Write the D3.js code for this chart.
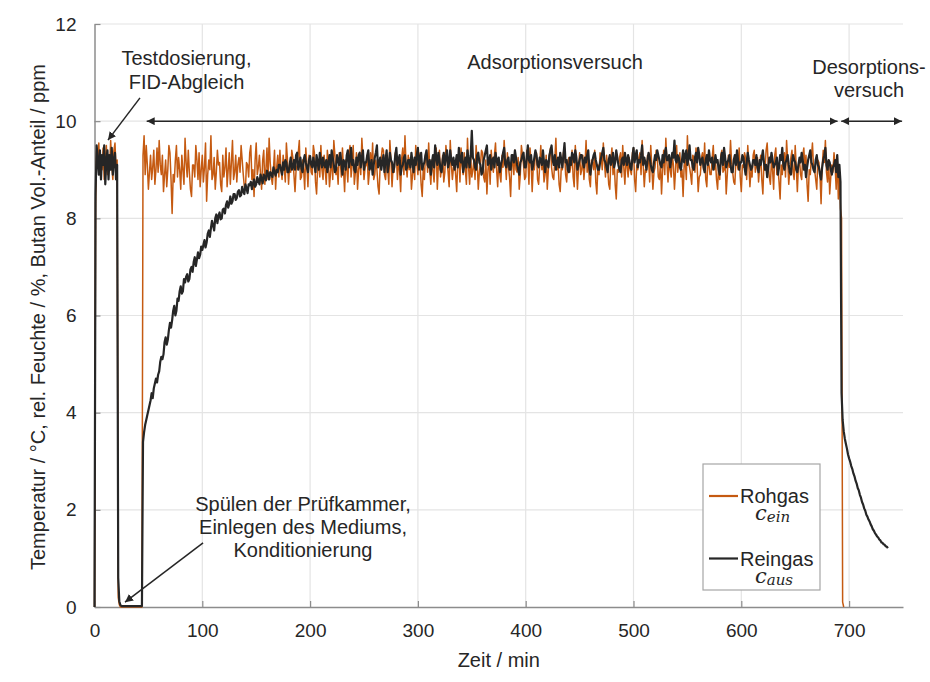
<!DOCTYPE html>
<html>
<head>
<meta charset="utf-8">
<script src="https://cdn.jsdelivr.net/npm/d3@7"></script>
<style>
  html, body { margin: 0; padding: 0; background: #fff; }
  svg { display: block; font-family: "Liberation Sans", Arial, sans-serif; }
</style>
</head>
<body>
<svg id="chart" width="930" height="682"></svg>
<script>
// Butan-Konzentration (ppm) über der Versuchszeit (min)

// Rohgas c_ein
const rohgasAnfang = [ // t = 0 … 50 min, 1-min-Raster
  0, 8.3, 9.4, 9.1, 9.55, 8.9, 9.3, 9.0, 9.45, 8.8, 9.2, 9.5, 8.9, 9.3, 9.0, 9.6, 9.1, 8.8, 9.4, 9.55, 9.0, 9.2,
  0.2, 0.05,
  0, 0, 0, 0, 0, 0, 0, 0, 0, 0, 0, 0, 0, 0, 0, 0, 0, 0, 0, 0, 0,
  9.3, 9.7, 8.9, 9.5, 9.1, 8.6
];
const rohgasMitte = [ // t = 52 … 686 min, 1-min-Raster
  9.3, 8.8, 9.05, 9.4, 8.7, 9.0, 9.45, 8.95, 9.6, 9.1, 8.9, 9.3, 8.55, 8.9, 9.2, 8.65, 9.0, 9.5, 9.35, 8.8, 8.1, 8.9, 8.75, 9.2, 9.5, 8.85, 9.25, 9.0, 8.6, 9.3, 9.0, 8.7, 9.65, 9.15, 8.85, 9.4, 8.95, 8.6, 8.45, 9.1,
  9.1, 8.85, 9.5, 9.2, 8.8, 9.35, 8.65, 9.0, 9.3, 8.75, 9.05, 9.55, 8.35, 8.9, 9.2, 9.0, 9.7, 8.8, 8.9, 9.25, 8.6, 8.95, 9.4, 9.1, 9.15, 8.7, 8.55, 9.3, 8.85, 9.05, 9.45, 8.65, 9.0, 9.35, 8.7, 9.15, 9.6, 8.8, 8.95, 9.3,
  8.75, 9.1, 9.25, 8.95, 9.5, 9.2, 8.9, 8.65, 8.6, 9.15, 9.1, 8.85, 9.35, 9.5, 8.8, 9.0, 8.45, 9.2, 9.55, 8.9, 9.05, 9.3, 8.9, 8.6, 9.2, 9.4, 8.7, 9.0, 9.45, 8.8, 9.65, 9.15, 8.85, 8.7, 9.0, 9.4, 8.6, 9.05, 9.3, 8.85,
  9.4, 9.0, 8.8, 9.3, 9.05, 8.75, 9.55, 9.2, 8.7, 9.1, 8.95, 9.4, 9.25, 8.9, 8.55, 9.0, 9.1, 9.35, 9.6, 8.8, 8.85, 9.2, 9.0, 8.6, 9.45, 9.1, 8.65, 9.3, 9.2, 8.95, 8.9, 9.5, 9.35, 8.75, 8.5, 9.05, 9.15, 8.85, 9.5, 9.0,
  8.8, 9.3, 9.0, 8.7, 9.4, 9.15, 8.65, 8.95, 9.25, 8.8, 9.6, 9.3, 8.9, 9.05, 8.7, 9.35, 9.15, 8.85, 9.45, 9.0, 8.55, 9.2, 9.05, 8.75, 9.3, 9.5, 8.85, 9.1, 9.5, 8.7, 8.95, 9.35, 8.6, 9.0, 9.2, 8.9, 9.65, 9.25, 8.8, 9.05,
  9.1, 9.3, 8.7, 8.95, 9.35, 9.0, 9.55, 8.8, 8.9, 9.2, 9.0, 8.65, 8.5, 9.1, 9.25, 9.45, 9.4, 8.9, 8.8, 9.15, 9.05, 8.7, 9.6, 9.2, 8.65, 9.05, 8.95, 9.35, 9.3, 8.8, 9.15, 9.0, 8.55, 9.25, 9.45, 8.9, 9.7, 9.1, 8.85, 9.3,
  9.0, 9.25, 8.6, 8.9, 9.2, 8.8, 9.5, 9.15, 8.9, 9.35, 9.1, 8.7, 8.45, 9.05, 8.8, 9.3, 9.35, 8.95, 9.55, 9.0, 8.7, 9.2, 9.0, 8.75, 9.25, 9.45, 8.6, 9.1, 9.4, 8.85, 9.05, 9.3, 8.75, 8.95, 9.5, 9.2, 8.95, 8.65, 9.6, 9.1,
  8.8, 9.05, 9.15, 8.9, 8.55, 9.2, 9.3, 8.75, 9.45, 9.1, 8.9, 9.35, 9.0, 8.7, 9.65, 9.05, 8.7, 9.25, 8.85, 9.0, 9.2, 8.8, 9.5, 9.15, 8.6, 8.95, 9.1, 9.4, 9.35, 8.85, 8.75, 9.2, 8.5, 9.0, 9.25, 8.7, 9.4, 9.1, 8.95, 9.3,
  9.55, 9.0, 8.65, 9.2, 8.9, 8.75, 9.3, 9.05, 9.6, 9.2, 8.8, 9.35, 9.05, 8.85, 8.45, 9.1, 9.2, 8.9, 9.4, 9.0, 8.95, 9.25, 8.6, 8.9, 9.5, 9.3, 9.1, 8.8, 8.85, 9.4, 9.25, 8.7, 9.45, 9.15, 8.55, 9.05, 9.0, 9.3, 9.35, 8.8,
  8.7, 9.1, 9.5, 9.0, 9.2, 8.75, 8.9, 9.3, 8.6, 9.0, 9.3, 9.45, 9.05, 8.85, 8.8, 9.2, 9.65, 9.0, 9.15, 8.7, 8.55, 9.05, 9.0, 9.35, 9.45, 8.9, 8.75, 9.15, 9.25, 8.95, 9.1, 9.4, 8.85, 8.65, 9.5, 9.1, 8.6, 9.05, 9.35, 8.9,
  9.0, 9.3, 8.8, 9.1, 9.6, 8.95, 9.25, 8.8, 8.65, 9.2, 9.15, 9.0, 9.4, 8.75, 8.5, 9.1, 8.9, 9.35, 9.3, 9.0, 9.55, 9.15, 8.85, 9.3, 9.05, 8.7, 8.6, 9.2, 9.45, 8.9, 9.2, 8.7, 8.4, 9.0, 8.95, 9.25, 9.35, 8.85, 9.5, 9.05,
  8.7, 9.2, 9.1, 8.85, 9.25, 9.0, 8.9, 9.35, 9.45, 8.8, 8.55, 9.1, 9.0, 9.25, 9.35, 8.9, 9.6, 9.1, 8.65, 9.0, 8.95, 9.3, 9.2, 8.75, 9.5, 9.05, 8.6, 8.95, 9.05, 9.4, 9.3, 8.85, 8.8, 9.15, 8.5, 9.0, 9.4, 8.9, 9.65, 9.15,
  8.75, 9.2, 9.0, 8.85, 9.3, 9.1, 8.6, 9.0, 9.5, 8.95, 9.15, 9.35, 8.85, 9.0, 8.45, 9.1, 9.2, 8.8, 9.7, 9.15, 9.05, 8.9, 8.7, 9.3, 9.25, 8.95, 9.45, 9.1, 8.55, 8.85, 8.9, 9.25, 9.35, 9.0, 9.55, 8.8, 8.65, 9.2, 9.1, 8.9,
  8.9, 9.25, 9.5, 9.0, 9.2, 8.8, 8.6, 9.1, 8.8, 9.3, 9.4, 8.95, 9.0, 9.2, 8.5, 8.9, 9.3, 9.05, 9.6, 9.15, 8.95, 8.75, 8.7, 9.2, 9.15, 9.0, 9.45, 8.85, 8.55, 9.1, 9.05, 9.35, 9.25, 8.8, 9.5, 9.1, 8.65, 9.0, 8.85, 9.3,
  9.4, 8.95, 9.1, 9.25, 8.75, 9.05, 9.3, 8.8, 8.5, 9.15, 9.0, 9.4, 9.55, 9.1, 8.85, 8.7, 9.2, 9.0, 8.6, 9.3, 9.45, 8.9, 9.05, 8.75, 8.4, 9.1, 8.9, 9.2, 9.35, 8.85, 9.6, 9.2, 8.7, 9.0, 9.25, 9.4, 8.95, 8.8, 9.5, 9.05,
  8.55, 9.1, 9.2, 8.9, 8.8, 9.3, 9.45, 9.0, 9.3, 8.7, 8.35, 9.0, 8.9, 9.25, 9.55, 9.05, 9.0, 8.8, 8.6, 9.2, 9.15, 8.9, 8.3, 9.05, 9.4, 9.15, 9.6, 8.95, 8.75, 9.2, 8.5, 8.85, 9.1, 8.95, 9.35
];
const rohgasEnde = [ // t = 687 … 695 min
  9.1, 8.6, 9.3, 8.4, 8.9, 8.2, 8.0, 0.1, 0
];

// Reingas c_aus
const reingasAnfang = [ // t = 0 … 50 min
  0, 8.5, 9.5, 9.2, 8.9, 9.4, 8.8, 9.3, 9.1, 9.5, 8.7, 9.2, 9.4, 8.8, 9.3, 9.0, 9.45, 8.9, 9.2, 9.35, 8.8, 9.1,
  0.6, 0.12, 0.04,
  0.02, 0.02, 0.02, 0.02, 0.02, 0.02, 0.02, 0.02, 0.02, 0.02, 0.02, 0.02, 0.02, 0.02, 0.02, 0.02, 0.02, 0.02, 0.02, 0.02,
  3.4, 3.6, 3.75, 3.85, 3.95, 4.05
];
const reingasMitte = [ // t = 52 … 686 min, 1-min-Raster
  4.25, 4.4, 4.3, 4.5, 4.6, 4.7, 4.62, 4.78, 4.85, 5.05, 5.15, 5.1, 5.2, 5.45, 5.55, 5.4, 5.5, 5.7, 5.85, 5.75, 5.9, 6.1, 6.2, 6.0, 6.1, 6.35, 6.3, 6.5, 6.6, 6.45, 6.5, 6.75, 6.68, 6.8, 6.85, 6.7, 6.75, 6.95, 7.0, 6.9,
  7.1, 7.2, 7.02, 7.15, 7.3, 7.18, 7.25, 7.42, 7.35, 7.45, 7.55, 7.4, 7.5, 7.68, 7.75, 7.62, 7.8, 7.95, 7.85, 7.75, 8.0, 8.08, 7.9, 8.05, 8.12, 7.98, 8.0, 8.18, 8.2, 8.1, 8.28, 8.35, 8.22, 8.3, 8.45, 8.3, 8.35, 8.5, 8.5, 8.38,
  8.42, 8.55, 8.58, 8.45, 8.48, 8.65, 8.55, 8.5, 8.7, 8.62, 8.52, 8.7, 8.68, 8.75, 8.6, 8.72, 8.8, 8.65, 8.7, 8.85, 8.78, 8.7, 8.9, 8.82, 8.72, 8.9, 8.85, 8.78, 8.98, 8.92, 8.8, 8.95, 8.92, 8.85, 9.05, 8.95, 8.88, 9.0, 8.95, 9.1,
  9.1, 9.0, 8.9, 9.15, 9.0, 9.2, 9.15, 8.95, 8.95, 9.1, 9.25, 9.0, 9.05, 9.2, 9.0, 9.3, 9.35, 9.0, 9.1, 9.25, 9.02, 8.95, 9.2, 9.3, 9.15, 9.05, 8.95, 9.2, 9.28, 9.1, 9.05, 9.25, 9.1, 8.95, 9.3, 9.15, 9.0, 9.35, 9.18, 9.05,
  9.25, 9.1, 9.05, 9.2, 8.95, 9.15, 9.3, 9.05, 9.4, 9.25, 9.1, 8.95, 9.0, 9.3, 9.2, 9.1, 9.35, 9.15, 8.9, 9.2, 9.15, 9.0, 9.3, 9.4, 9.05, 9.2, 9.45, 9.1, 9.2, 9.0, 8.95, 9.25, 9.1, 9.3, 9.35, 9.05, 9.25, 9.4, 9.0, 9.15,
  9.15, 9.3, 9.4, 9.0, 9.05, 9.2, 8.9, 9.1, 9.25, 9.35, 9.5, 9.05, 9.1, 9.25, 9.0, 9.15, 9.3, 8.95, 9.2, 9.4, 8.95, 9.1, 9.35, 9.2, 9.15, 8.95, 9.05, 9.3, 9.45, 9.1, 9.2, 9.3, 8.9, 9.05, 9.1, 9.25, 9.3, 9.0, 9.05, 9.2,
  9.2, 9.05, 9.35, 9.15, 8.95, 9.25, 9.1, 9.3, 9.45, 9.0, 9.25, 9.35, 9.0, 9.1, 9.15, 9.3, 9.4, 9.1, 9.05, 9.2, 8.9, 9.15, 9.3, 9.05, 9.5, 9.25, 9.1, 9.35, 9.2, 9.0, 8.95, 9.2, 9.35, 9.1, 9.25, 9.4, 9.05, 9.15, 9.4, 9.2,
  9.1, 9.25, 9.0, 9.15, 9.3, 9.05, 9.45, 9.2, 9.15, 9.35, 8.95, 9.1, 9.25, 9.05, 9.4, 9.2, 9.05, 9.3, 9.8, 9.25, 9.2, 9.05, 9.0, 9.3, 9.35, 9.15, 9.1, 8.9, 8.95, 9.2, 9.3, 9.4, 9.5, 9.1, 9.15, 9.3, 9.0, 9.2, 9.25, 9.05,
  9.35, 9.2, 9.1, 9.25, 8.95, 9.1, 9.2, 9.35, 9.45, 9.1, 9.05, 9.2, 9.25, 9.0, 9.0, 9.3, 9.3, 9.15, 9.4, 9.25, 9.1, 9.0, 8.9, 9.15, 9.2, 9.3, 9.35, 9.05, 9.05, 9.25, 9.5, 9.2, 9.15, 9.3, 9.0, 9.1, 9.25, 9.4, 9.3, 9.1,
  9.05, 9.25, 9.2, 9.1, 9.4, 9.15, 8.95, 9.2, 9.15, 9.05, 9.3, 9.4, 9.5, 9.2, 9.1, 9.3, 9.0, 9.15, 9.25, 9.05, 9.35, 9.2, 9.05, 9.3, 9.55, 9.15, 9.2, 9.0, 8.95, 9.25, 9.1, 9.35, 9.3, 9.15, 9.4, 9.25, 9.0, 9.1, 9.2, 9.3,
  9.3, 9.15, 9.05, 9.25, 9.15, 9.3, 9.4, 9.05, 8.9, 9.1, 9.2, 9.3, 9.35, 9.2, 9.1, 9.0, 9.0, 9.15, 9.25, 9.35, 9.45, 9.2, 9.15, 9.05, 8.95, 9.2, 9.3, 9.1, 9.2, 9.35, 9.05, 9.15, 9.4, 9.25, 9.1, 9.0, 8.95, 9.2, 9.25, 9.1,
  9.35, 9.2, 9.1, 9.3, 9.2, 9.05, 9.0, 9.25, 9.45, 9.15, 9.3, 9.4, 9.05, 9.2, 9.15, 9.3, 9.5, 9.1, 9.25, 9.15, 9.0, 9.2, 9.35, 9.25, 9.1, 9.0, 8.95, 9.15, 9.3, 9.2, 9.4, 9.3, 9.2, 9.1, 9.05, 9.3, 9.15, 9.35, 9.45, 9.2,
  9.2, 9.3, 9.05, 9.2, 9.35, 9.25, 9.6, 9.2, 9.15, 9.3, 9.25, 9.05, 9.0, 9.2, 9.4, 9.15, 9.3, 9.4, 9.1, 9.25, 9.5, 9.2, 9.2, 9.05, 9.0, 9.25, 9.35, 9.15, 9.45, 9.3, 9.1, 9.2, 9.25, 9.05, 8.95, 9.2, 9.3, 9.1, 9.4, 9.2,
  9.15, 9.25, 9.0, 9.1, 9.3, 9.15, 9.2, 9.0, 8.9, 9.2, 9.35, 9.1, 9.45, 9.25, 9.05, 9.15, 9.2, 9.3, 9.1, 8.95, 8.95, 9.2, 9.3, 9.1, 9.4, 9.2, 9.0, 9.15, 9.15, 9.3, 9.25, 9.05, 8.9, 9.15, 9.35, 9.2, 9.1, 9.0, 9.05, 9.2,
  9.2, 9.1, 9.3, 9.05, 8.95, 9.2, 9.1, 9.25, 9.4, 9.15, 9.0, 9.1, 8.85, 9.05, 9.25, 9.15, 9.35, 9.2, 9.05, 9.1, 9.15, 9.25, 8.9, 9.05, 9.3, 9.2, 9.45, 9.1, 9.0, 9.15, 9.2, 9.3, 9.1, 8.95, 8.9, 9.15, 9.3, 9.2, 9.15, 9.0,
  8.95, 9.1, 9.25, 9.15, 9.35, 9.2, 9.0, 9.1, 8.85, 9.05, 9.2, 9.3, 9.4, 9.15, 9.1, 9.0, 8.95, 9.2, 9.3, 9.1, 9.05, 8.9, 8.8, 9.05, 9.2, 9.3, 9.45, 9.1, 9.0, 9.2, 9.15, 9.0, 8.9, 9.05, 9.1
];
const reingasEnde = [ // t = 687 … 736 min, Desorption
  9.2, 8.95, 9.3, 8.85, 9.1, 8.75, 4.4, 3.85, 3.62, 3.47,
  3.36, 3.26, 3.14, 3.06, 2.99, 2.9, 2.84, 2.75, 2.69, 2.6,
  2.54, 2.45, 2.4, 2.31, 2.25, 2.16, 2.11, 2.03, 1.98, 1.9,
  1.86, 1.8, 1.76, 1.7, 1.66, 1.6, 1.57, 1.52, 1.49, 1.45,
  1.43, 1.39, 1.37, 1.33, 1.32, 1.29, 1.28, 1.25, 1.24, 1.21
];

const xTicks = [0, 100, 200, 300, 400, 500, 600, 700];
const yTicks = [0, 2, 4, 6, 8, 10, 12];

const legende = [
  { name: "Rohgas", index: "ein", farbe: "#C55A11" },
  { name: "Reingas", index: "aus", farbe: "#262626" }
];

// Messreihe aus Abschnitten mit gleichmäßigem Zeitraster
function abschnitt(werte, t0, t1) {
  const dt = (t1 - t0) / (werte.length - 1);
  return werte.map((v, i) => [t0 + i * dt, v]);
}
const rohgas = [].concat(
  abschnitt(rohgasAnfang, 0, 50),
  abschnitt(rohgasMitte, 52, 686),
  abschnitt(rohgasEnde, 687, 695)
);
const reingas = [].concat(
  abschnitt(reingasAnfang, 0, 50),
  abschnitt(reingasMitte, 52, 686),
  abschnitt(reingasEnde, 687, 736)
);

const svg = d3.select("#chart");
const x = d3.scaleLinear().domain([0, 750]).range([94.5, 903]);
const y = d3.scaleLinear().domain([0, 12]).range([607, 24]);

const textFarbe = "#262626";
const gitterFarbe = "#e4e4e4";
const achsFarbe = "#8c8c8c";

// Gitterlinien
svg.append("g").selectAll("line").data(xTicks.filter(d => d > 0)).join("line")
  .attr("x1", d => x(d)).attr("x2", d => x(d))
  .attr("y1", y(0)).attr("y2", y(12))
  .attr("stroke", gitterFarbe).attr("stroke-width", 1.2);
svg.append("g").selectAll("line").data(yTicks.filter(d => d > 0)).join("line")
  .attr("x1", x(0)).attr("x2", x(750))
  .attr("y1", d => y(d)).attr("y2", d => y(d))
  .attr("stroke", gitterFarbe).attr("stroke-width", 1.2);

// Achsen
const xAchse = svg.append("g").attr("transform", `translate(0,${y(0)})`)
  .call(d3.axisBottom(x).tickValues(xTicks).tickSize(-6).tickPadding(17).tickSizeOuter(0));
const yAchse = svg.append("g").attr("transform", `translate(${x(0)},0)`)
  .call(d3.axisLeft(y).tickValues(yTicks).tickSize(-6).tickPadding(18).tickSizeOuter(0));
[xAchse, yAchse].forEach(a => {
  a.select(".domain").attr("stroke", achsFarbe).attr("stroke-width", 1.5);
  a.selectAll(".tick line").attr("stroke", achsFarbe).attr("stroke-width", 1.2);
  a.selectAll(".tick text").attr("fill", textFarbe)
    .style("font-size", "19px").style("font-family", '"Liberation Sans", Arial, sans-serif');
});

// Messkurven
const linie = d3.line().x(d => x(d[0])).y(d => y(d[1]));
svg.append("path").datum(rohgas).attr("d", linie)
  .attr("fill", "none").attr("stroke", legende[0].farbe).attr("stroke-width", 1.5)
  .attr("stroke-linejoin", "round");
svg.append("path").datum(reingas).attr("d", linie)
  .attr("fill", "none").attr("stroke", legende[1].farbe).attr("stroke-width", 2.2)
  .attr("stroke-linejoin", "round");

// Pfeilspitzen
const defs = svg.append("defs");
function spitze(id, orient) {
  defs.append("marker").attr("id", id)
    .attr("viewBox", "0 0 10 10").attr("refX", 10).attr("refY", 5)
    .attr("markerWidth", 8).attr("markerHeight", 8)
    .attr("markerUnits", "userSpaceOnUse").attr("orient", orient)
    .append("path").attr("d", "M0,0 L10,5 L0,10 Z").attr("fill", textFarbe);
}
spitze("pfeil", "auto");
spitze("pfeilStart", "auto-start-reverse");

function pfeil(t1, v1, t2, v2, beidseitig) {
  const l = svg.append("line")
    .attr("x1", x(t1)).attr("y1", y(v1)).attr("x2", x(t2)).attr("y2", y(v2))
    .attr("stroke", textFarbe).attr("stroke-width", 1.5)
    .attr("marker-end", "url(#pfeil)");
  if (beidseitig) l.attr("marker-start", "url(#pfeilStart)");
}
pfeil(42.2, 10.48, 12.5, 9.61, false);
pfeil(100.7, 1.32, 28.3, 0.1, false);
pfeil(48.4, 10.0, 689.3, 10.0, true);
pfeil(692.7, 10.0, 749, 10.0, true);

// Beschriftungen der Versuchsphasen
function beschriftung(zeilen, cx, yBase, abstand) {
  const t = svg.append("text").attr("text-anchor", "middle")
    .attr("fill", textFarbe).style("font-size", "20px");
  zeilen.forEach((z, i) => {
    t.append("tspan").attr("x", cx).attr("y", yBase + i * abstand).text(z);
  });
}
beschriftung(["Testdosierung,", "FID-Abgleich"], 186.5, 65, 24);
beschriftung(["Adsorptionsversuch"], 555, 69, 24);
beschriftung(["Desorptions-", "versuch"], 869, 73.5, 23);
beschriftung(["Spülen der Prüfkammer,", "Einlegen des Mediums,", "Konditionierung"], 303, 511, 23);

// Achsentitel
svg.append("text").attr("text-anchor", "middle").attr("fill", textFarbe)
  .style("font-size", "20px")
  .attr("x", (x(0) + x(750)) / 2).attr("y", 667).text("Zeit / min");
svg.append("text").attr("text-anchor", "middle").attr("fill", textFarbe)
  .style("font-size", "20px")
  .attr("transform", "translate(45,317) rotate(-90)")
  .text("Temperatur / °C, rel. Feuchte / %, Butan Vol.-Anteil / ppm");

// Legende
const lg = svg.append("g");
lg.append("rect").attr("x", 703).attr("y", 464).attr("width", 117).attr("height", 126)
  .attr("fill", "#fff").attr("stroke", "#a6a6a6").attr("stroke-width", 1.2);
legende.forEach((d, i) => {
  const oy = 496 + i * 62.5;
  lg.append("line").attr("x1", 709).attr("x2", 738).attr("y1", oy).attr("y2", oy)
    .attr("stroke", d.farbe).attr("stroke-width", 2.2);
  lg.append("text").attr("x", 740).attr("y", oy + 7).attr("fill", textFarbe)
    .style("font-size", "20px").text(d.name);
  const c = lg.append("text").attr("x", 755).attr("y", oy + 24).attr("fill", textFarbe)
    .style("font-family", '"DejaVu Serif", "Liberation Serif", serif').style("font-style", "italic");
  c.append("tspan").style("font-size", "21px").text("c");
  c.append("tspan").style("font-size", "15px").attr("dy", 2).text(d.index);
});
</script>
</body>
</html>
